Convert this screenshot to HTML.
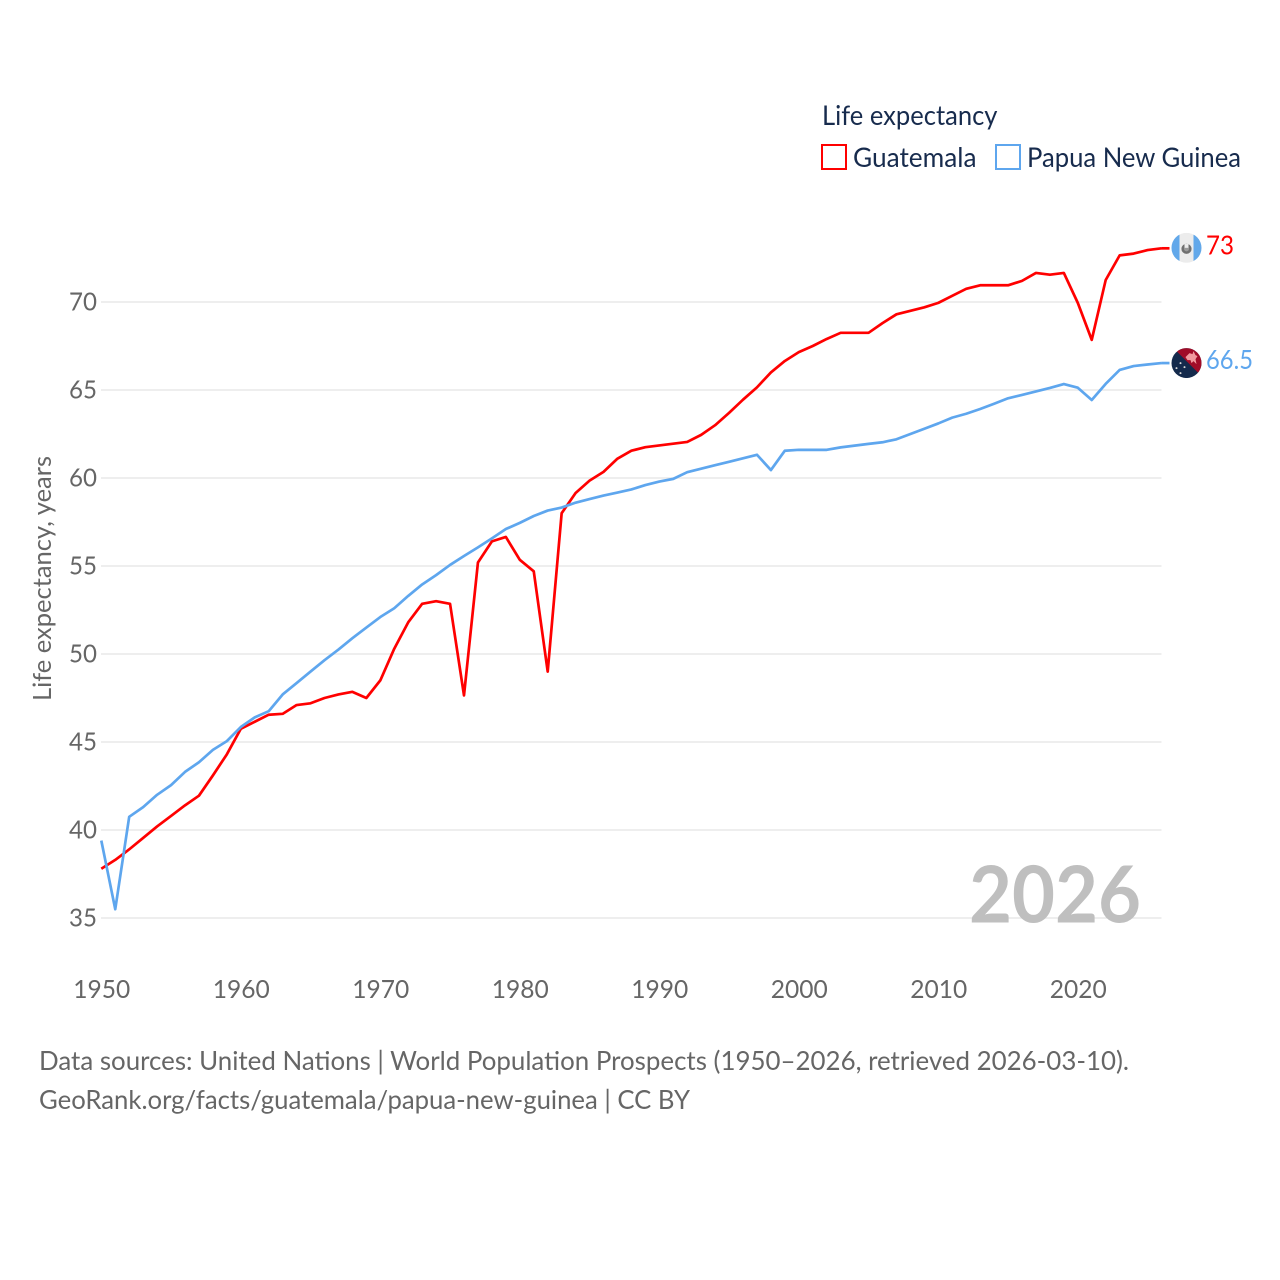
<!DOCTYPE html>
<html lang="en">
<head>
<meta charset="utf-8">
<title>Life expectancy: Guatemala and Papua New Guinea</title>
<style>
html,body{margin:0;padding:0;background:#fff;}
svg{display:block;}
text{font-family:"Lato","Carlito","Liberation Sans",sans-serif;}
</style>
</head>
<body>
<svg id="chart" xmlns="http://www.w3.org/2000/svg" width="1280" height="1280" viewBox="0 0 1280 1280">
  <rect x="0" y="0" width="1280" height="1280" fill="#ffffff"/>
  <defs>
    <clipPath id="flag-clip-a"><circle cx="0" cy="0" r="15"/></clipPath>
    <clipPath id="flag-clip-b"><circle cx="0" cy="0" r="15"/></clipPath>
  </defs>
  <g id="grid"></g>
  <g id="y-ticks"></g>
  <g id="x-ticks"></g>
  <text transform="translate(51,701) rotate(-90)" font-size="25" fill="#666666" textLength="245" lengthAdjust="spacingAndGlyphs">Life expectancy, years</text>
  <text x="969" y="922.5" font-size="79" font-weight="bold" fill="#bfbfbf" textLength="172" lengthAdjust="spacingAndGlyphs">2026</text>
  <g id="lines"></g>
  <g id="ends"></g>

  <text x="822" y="125" font-size="27" fill="#172b4d" textLength="175.5" lengthAdjust="spacingAndGlyphs">Life expectancy</text>
  <g>
    <rect x="822" y="145" width="24" height="24" fill="none" stroke="#ff0000" stroke-width="2"/>
    <text x="853" y="167" font-size="27" fill="#172b4d" textLength="123.5" lengthAdjust="spacingAndGlyphs">Guatemala</text>
  </g>
  <g>
    <rect x="996" y="145" width="24" height="24" fill="none" stroke="#5ea6ee" stroke-width="2"/>
    <text x="1027" y="167" font-size="27" fill="#172b4d" textLength="214" lengthAdjust="spacingAndGlyphs">Papua New Guinea</text>
  </g>

  <text x="39" y="1070" font-size="26" fill="#666666" textLength="1090" lengthAdjust="spacingAndGlyphs">Data sources: United Nations | World Population Prospects (1950–2026, retrieved 2026-03-10).</text>
  <text x="39" y="1109" font-size="26" fill="#666666" textLength="651" lengthAdjust="spacingAndGlyphs">GeoRank.org/facts/guatemala/papua-new-guinea | CC BY</text>
</svg>
<script>
const years = [];
for (let yr = 1950; yr <= 2026; yr++) years.push(yr);
const guatemala = [37.8,38.3,38.9,39.55,40.2,40.8,41.4,41.95,43.1,44.3,45.75,46.15,46.55,46.6,47.1,47.2,47.5,47.7,47.85,47.5,48.5,50.3,51.8,52.85,53.0,52.85,47.65,55.2,56.4,56.65,55.35,54.7,49.0,58.0,59.15,59.85,60.35,61.1,61.55,61.75,61.85,61.95,62.05,62.45,63.0,63.7,64.45,65.15,66.0,66.65,67.15,67.5,67.9,68.25,68.25,68.25,68.8,69.3,69.5,69.7,69.95,70.35,70.75,70.95,70.95,70.95,71.2,71.65,71.55,71.65,69.95,67.85,71.25,72.65,72.75,72.95,73.05];
const papuaNewGuinea = [39.4,35.5,40.75,41.3,42.0,42.55,43.3,43.85,44.55,45.05,45.85,46.4,46.75,47.7,48.35,49.0,49.65,50.25,50.9,51.5,52.1,52.6,53.3,53.95,54.48,55.06,55.57,56.06,56.57,57.1,57.45,57.84,58.15,58.32,58.6,58.8,59.0,59.17,59.35,59.6,59.8,59.95,60.33,60.53,60.73,60.92,61.12,61.32,60.45,61.55,61.6,61.6,61.6,61.74,61.84,61.94,62.03,62.2,62.5,62.8,63.1,63.43,63.65,63.92,64.22,64.53,64.72,64.92,65.12,65.34,65.13,64.43,65.35,66.14,66.36,66.45,66.53];
const yTickValues = [35,40,45,50,55,60,65,70];
const xTickValues = [1950,1960,1970,1980,1990,2000,2010,2020];
const endLabels = ['73','66.5'];

const NS = 'http://www.w3.org/2000/svg';
function xScale(yr) { return 101.3 + (yr - 1950) * 13.95; }
function yScale(v) { return 302 + (70 - v) * 17.6; }
function make(tag, attrs, parent) {
  const el = document.createElementNS(NS, tag);
  for (const k in attrs) el.setAttribute(k, attrs[k]);
  parent.appendChild(el);
  return el;
}

const gridG = document.getElementById('grid');
const yG = document.getElementById('y-ticks');
const xG = document.getElementById('x-ticks');
const linesG = document.getElementById('lines');
const endsG = document.getElementById('ends');

yTickValues.forEach(function (v) {
  const gl = make('line', {x1: 101, x2: 1161.5, y1: yScale(v), y2: yScale(v), stroke: '#e9e9e9', 'stroke-width': 1.5}, gridG);
  
  
  const t = make('text', {x: 69, y: yScale(v) + 8.5, 'font-size': 25, fill: '#666666', textLength: 28, lengthAdjust: 'spacingAndGlyphs'}, yG);
  
  
  t.textContent = String(v);
});

xTickValues.forEach(function (yr) {
  const t = make('text', {x: xScale(yr) - 28, y: 998, 'font-size': 25, fill: '#666666', textLength: 57, lengthAdjust: 'spacingAndGlyphs'}, xG);
  
  
  t.textContent = String(yr);
});

function linePoints(values) {
  return values.map(function (v, i) {
    return xScale(years[i]).toFixed(2) + ',' + yScale(v).toFixed(2);
  }).join(' ');
}

const redLine = make('polyline', {points: linePoints(guatemala), fill: 'none', stroke: '#ff0000', 'stroke-width': 2.7, 'stroke-linejoin': 'round'}, linesG);


const blueLine = make('polyline', {points: linePoints(papuaNewGuinea), fill: 'none', stroke: '#5ea6ee', 'stroke-width': 2.7, 'stroke-linejoin': 'round'}, linesG);



const lastX = xScale(years[years.length - 1]);
const flagX = lastX + 25;

/* Guatemala end marker */
const redY = yScale(guatemala[guatemala.length - 1]);
const redLink = make('line', {x1: lastX, x2: flagX - 17, y1: redY, y2: redY, stroke: '#ff0000', 'stroke-width': 2.7}, endsG);


const flagA = make('g', {transform: 'translate(' + flagX + ',' + (redY - 0.5) + ')', 'clip-path': 'url(#flag-clip-a)'}, endsG);


make('rect', {x: -15, y: -15, width: 30, height: 30, fill: '#ececec'}, flagA);
make('rect', {x: -15, y: -15, width: 8, height: 30, fill: '#62a8ea'}, flagA);
make('rect', {x: 7, y: -15, width: 8, height: 30, fill: '#62a8ea'}, flagA);
make('circle', {cx: 0, cy: 1, r: 3.8, fill: '#9a9a9a', stroke: '#707070', 'stroke-width': 2.6}, flagA);
make('rect', {x: -2, y: -4, width: 4, height: 4, fill: '#ececec'}, flagA);
const redLabel = make('text', {x: 1206, y: redY + 6, 'font-size': 26, fill: '#ff0000', textLength: 28, lengthAdjust: 'spacingAndGlyphs'}, endsG);


redLabel.textContent = endLabels[0];

/* Papua New Guinea end marker */
const blueY = yScale(papuaNewGuinea[papuaNewGuinea.length - 1]);
const blueLink = make('line', {x1: lastX, x2: flagX - 17, y1: blueY, y2: blueY, stroke: '#5ea6ee', 'stroke-width': 2.7}, endsG);


const flagB = make('g', {transform: 'translate(' + flagX + ',' + blueY + ')', 'clip-path': 'url(#flag-clip-b)'}, endsG);


make('rect', {x: -15, y: -15, width: 30, height: 30, fill: '#142a4c'}, flagB);
make('polygon', {points: '-13,-15 15,-15 15,13', fill: '#a00c28'}, flagB);
make('polygon', {points: '-1,-6 3,-10 6,-9 7,-12 9,-8 11,-7 9,-4 10,1 7,-2 5,0 4,-3 1,-3', fill: '#f19a9f'}, flagB);
make('circle', {cx: -10, cy: 5, r: 1, fill: '#d8d8d8'}, flagB);
make('circle', {cx: -6, cy: 0, r: 1, fill: '#d8d8d8'}, flagB);
make('circle', {cx: -2, cy: 4, r: 1, fill: '#d8d8d8'}, flagB);
make('circle', {cx: -6, cy: 10, r: 1, fill: '#d8d8d8'}, flagB);
const blueLabel = make('text', {x: 1206, y: blueY + 6, 'font-size': 26, fill: '#5ea6ee', textLength: 47, lengthAdjust: 'spacingAndGlyphs'}, endsG);


blueLabel.textContent = endLabels[1];
</script>
</body>
</html>
